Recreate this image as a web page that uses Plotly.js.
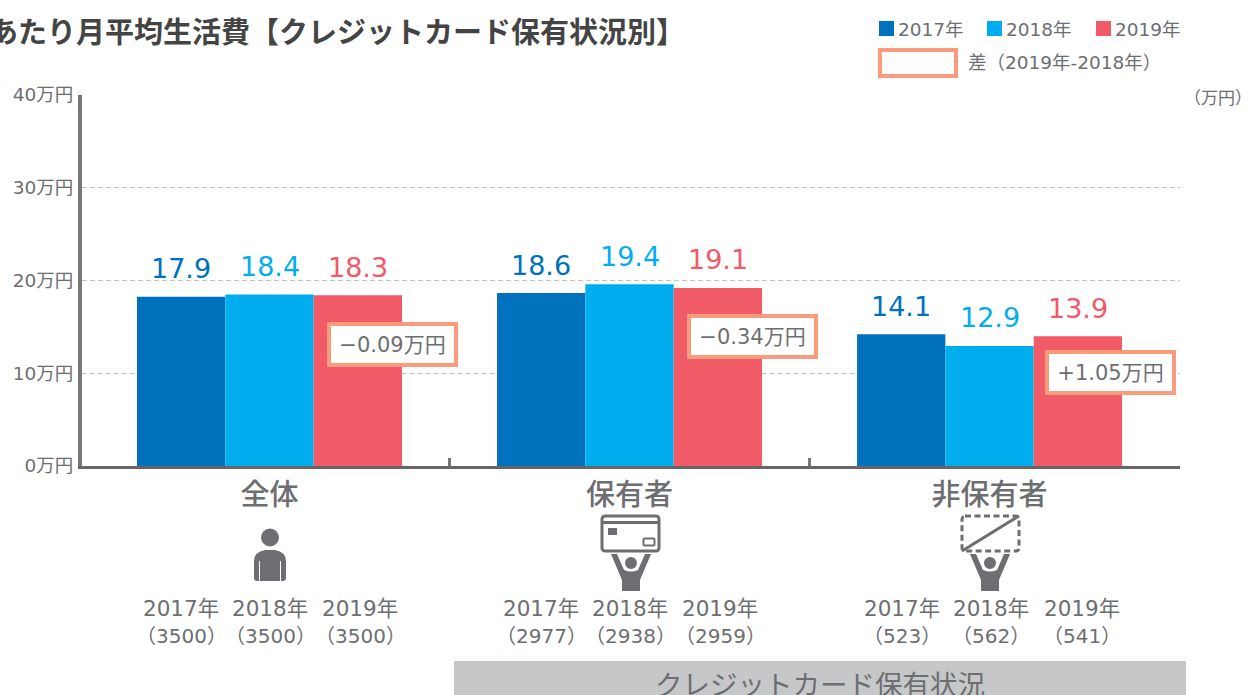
<!DOCTYPE html>
<html><head><meta charset="utf-8">
<script src="https://cdn.plot.ly/plotly-3.0.0.min.js"></script>
<style>html,body{margin:0;padding:0;background:#fff;overflow:hidden}</style>
</head><body><div id="chart" style="width:1252px;height:695px"></div>
<script>
const categories = ['全体', '保有者', '非保有者'];
const years = ['2017年', '2018年', '2019年'];
const values2017 = [18.25, 18.65, 14.2];
const values2018 = [18.5, 19.6, 12.95];
const values2019 = [18.4, 19.2, 14.0];
const labels2017 = ['17.9', '18.6', '14.1'];
const labels2018 = ['18.4', '19.4', '12.9'];
const labels2019 = ['18.3', '19.1', '13.9'];
const diffLabels = ['−0.09万円', '−0.34万円', '+1.05万円'];
const counts2017 = ['（3500）', '（2977）', '（523）'];
const counts2018 = ['（3500）', '（2938）', '（562）'];
const counts2019 = ['（3500）', '（2959）', '（541）'];
const yTickValues = [0, 10, 20, 30, 40];
const yTickLabels = ['0万円', '10万円', '20万円', '30万円', '40万円'];
const colors = ['#0071BC', '#00AEEF', '#F15A67'];
const textColor = '#6D6E71';
const boxColor = '#FA9B7C';
const font = '"DejaVu Sans", "Noto Sans CJK JP", sans-serif';
const cjk = '"Noto Sans CJK JP", sans-serif';

const W = 1252, H = 695, L = 82, R = 72, T = 95, B = 229;
const px = x => (x - L) / (W - L - R);
const py = y => 1 - (y - T) / (H - T - B);
const ann = [], shapes = [], images = [];
function label(x, y, text, size, color, opts) {
  const o = Object.assign({family:font}, opts || {});
  const fam = o.family; delete o.family;
  ann.push(Object.assign({xref:'paper', yref:'paper', x:px(x), y:py(y), text, showarrow:false,
    xanchor:'center', yanchor:'middle', font:{family:fam, size, color}}, o));
}
function rect(x0, y0, x1, y1, fill, line, lw) {
  shapes.push({type:'rect', xref:'paper', yref:'paper', x0:px(x0), x1:px(x1), y0:py(y0), y1:py(y1),
    fillcolor:fill, line:{color:line || fill, width:lw || 0}, layer:'above'});
}

// title
label(687, 30, '<b>あたり月平均生活費【クレジットカード保有状況別】</b>', 29, '#444', {xanchor:'right', family:cjk});

// legend
const legendX = [879, 987, 1096];
years.forEach((y, i) => {
  rect(legendX[i], 21, legendX[i] + 15, 36, colors[i]);
  label(legendX[i] + 17, 29, y, 18.5, textColor, {xanchor:'left'});
});
rect(880, 50, 956, 76, '#fff', boxColor, 4);
label(966, 62, '差（2019年-2018年）', 18.5, textColor, {xanchor:'left'});
label(1254, 96, '（万円）', 17, textColor, {xanchor:'right', family:cjk});

// value labels
const barOffset = 0.2453;
[labels2017, labels2018, labels2019].forEach((arr, j) => {
  const vals = [values2017, values2018, values2019][j];
  arr.forEach((t, i) => ann.push({xref:'x', yref:'y', x:i + (j - 1) * barOffset, y:vals[i], yshift:28,
    text:t, showarrow:false, xanchor:'center', yanchor:'middle',
    font:{family:font, size:27, color:colors[j]}}));
});

// difference boxes
const diffX = [392, 752, 1110], diffY = [344.5, 336, 372.5];
diffLabels.forEach((t, i) => label(diffX[i], diffY[i], t, 21, textColor,
  {bgcolor:'#fff', bordercolor:boxColor, borderwidth:4, width:123, height:37, borderpad:0}));

// sample sizes
const yearCx = [[181, 270, 360], [541, 630, 720], [902, 991, 1082]];
categories.forEach((c, i) => {
  [counts2017, counts2018, counts2019].forEach((arr, j) => {
    label(yearCx[i][j], 608, years[j], 21.5, textColor);
    label(yearCx[i][j], 635.5, arr[i], 20, textColor);
  });
});

// boundary ticks
[0.5, 1.5].forEach(x => shapes.push({type:'line', xref:'x', yref:'paper', x0:x, x1:x,
  y0:py(458), y1:py(466), line:{color:'#777', width:3}, layer:'above'}));

// bottom band
rect(454, 661, 1186, 696, '#C6C7C9');
label(820, 683, 'クレジットカード保有状況', 27.5, textColor, {family:cjk});

// icons
const G = '#6D6E71';
function svg(w, h, body) {
  return 'data:image/svg+xml;charset=utf-8,' + encodeURIComponent(
    `<svg xmlns="http://www.w3.org/2000/svg" width="${w}" height="${h}" viewBox="0 0 ${w} ${h}">${body}</svg>`);
}
function icon(x, y, w, h, body) {
  images.push({source:svg(w, h, body), xref:'paper', yref:'paper', x:px(x), y:py(y),
    sizex:w / (W - L - R), sizey:h / (H - T - B), xanchor:'left', yanchor:'top', sizing:'stretch', layer:'above'});
}
const raised = `<path d="M1 0 L7 0 L14 16 Q21 19 28 16 L35 0 L41 0 L30 26 L30 37 L12 37 L12 26 Z" fill="${G}"/>
 <circle cx="21" cy="9" r="7" fill="${G}" stroke="#fff" stroke-width="2"/>`;
icon(253, 528, 34, 54, `<circle cx="17" cy="9.5" r="9" fill="${G}"/>
 <path d="M1 33 Q1 24 12 22 L22 22 Q33 24 33 33 L33 50 Q33 53 30 53 L28 53 L28 33 L27 33 L27 53 L7 53 L7 33 L6 33 L6 53 L4 53 Q1 53 1 50 Z" fill="${G}"/>`);
icon(600, 514, 62, 40, `<rect x="2" y="2" width="57" height="35" rx="3" fill="#fff" stroke="${G}" stroke-width="3"/>
 <rect x="2" y="7" width="57" height="3" fill="${G}"/><rect x="8" y="14" width="9" height="7" fill="${G}"/>
 <rect x="43.5" y="24.5" width="11" height="7" rx="1" fill="none" stroke="${G}" stroke-width="2"/>`);
icon(610, 554, 42, 37, raised);
icon(960, 514, 62, 40, `<rect x="2" y="2" width="57" height="35" rx="3" fill="none" stroke="${G}" stroke-width="3" stroke-dasharray="6 3.5"/>
 <line x1="2" y1="37" x2="59" y2="2" stroke="${G}" stroke-width="3"/>`);
icon(969, 554, 42, 37, raised);

const traces = [values2017, values2018, values2019].map((v, j) => ({
  type:'bar', name:years[j], x:categories, y:v, marker:{color:colors[j], line:{width:0}}, hoverinfo:'x+y'
}));

Plotly.newPlot('chart', traces, {
  width:W, height:H, paper_bgcolor:'#fff', plot_bgcolor:'#fff',
  margin:{l:L, r:R, t:T, b:B, pad:0}, showlegend:false,
  barmode:'group', bargap:0.264, bargroupgap:0,
  font:{family:font, color:textColor},
  xaxis:{type:'category', range:[-0.5208, 2.529], showgrid:false, ticks:'outside', ticklen:1, tickcolor:'rgba(0,0,0,0)',
    tickfont:{family:cjk, size:29, color:textColor, weight:500}, showline:true, linecolor:'#666', linewidth:3, zeroline:false, fixedrange:true},
  yaxis:{range:[0, 40], tickvals:yTickValues, ticktext:yTickLabels, ticks:'', showline:true, linecolor:'#777', linewidth:4,
    gridcolor:'#C4C4C4', griddash:'5px,3px', gridwidth:1, zeroline:false, ticklabelstandoff:1,
    tickfont:{family:font, size:18.5, color:textColor}, fixedrange:true},
  annotations:ann, shapes, images
}, {displayModeBar:false, staticPlot:true});
</script></body></html>
